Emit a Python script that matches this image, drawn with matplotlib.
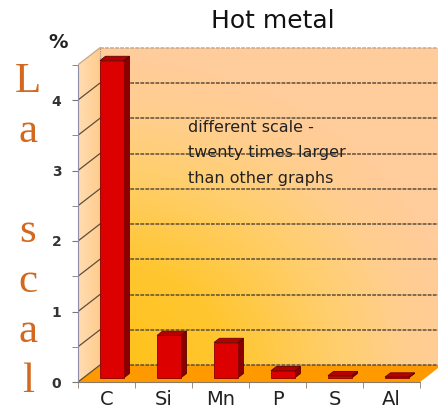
import matplotlib.pyplot as plt
import matplotlib.patches as mpatches
from matplotlib.colors import LinearSegmentedColormap
import numpy as np

categories = ["C", "Si", "Mn", "P", "S", "Al"]
percent = [4.5, 0.6, 0.5, 0.1, 0.03, 0.01]
tick_values = [0, 1, 2, 3, 4]
side_word = "La scal"
note_lines = ["different scale -", "twenty times larger", "than other graphs"]

W, H = 438, 409
fig = plt.figure(figsize=(W / 100, H / 100), dpi=100)
fig.patch.set_facecolor("white")

# front-left floor corner at (78, 382) px, 57 px per category, 70.5 px per %
px_cat, px_val = 57.0, 70.5
x0, y0, x1, y1 = 78, 382, 438, 45
ax = fig.add_axes([x0 / W, 1 - y0 / H, (x1 - x0) / W, (y0 - y1) / H])
xmin = -0.5
xlim = (xmin, xmin + (x1 - x0) / px_cat)
ylim = (0, (y0 - y1) / px_val)
ax.set_facecolor("none")

top = 4.5
dx, dy = 22 / px_cat, 17 / px_val
n = len(categories)
xr = n - 0.5
xs = np.arange(n)

# grid for gradients (pixel coords)
gx, gy = np.meshgrid(np.linspace(0, 1, 300), np.linspace(0, 1, 300))
pxx = x0 + gx * (x1 - x0)
pyy = y0 - gy * (y0 - y1)
extent = (xlim[0], xlim[1], ylim[0], ylim[1])

# back wall
back = mpatches.Polygon([(xmin + dx, dy), (xr + dx, dy), (xr + dx, top + dy), (xmin + dx, top + dy)],
                        closed=True, facecolor="none", edgecolor="none")
ax.add_patch(back)
r = np.clip(np.hypot((pxx - 105) / 370, (pyy - 380) / 330), 0, 1)
wall_cmap = LinearSegmentedColormap.from_list(
    "wall", [(0, "#FFC216"), (0.35, "#FFC630"), (0.62, "#FFCE6A"), (0.82, "#FFCE8E"), (1, "#FFCC9C")])
im = ax.imshow(r, extent=extent, origin="lower", cmap=wall_cmap, vmin=0, vmax=1,
               aspect="auto", zorder=0)
im.set_clip_path(back)

# left wall
left = mpatches.Polygon([(xmin, 0), (xmin + dx, dy), (xmin + dx, top + dy), (xmin, top)],
                        closed=True, facecolor="none", edgecolor="none")
ax.add_patch(left)
lw_cmap = LinearSegmentedColormap.from_list("lwall", ["#FFDDB2", "#FFCB8C"])
im2 = ax.imshow(np.clip((pxx - x0) / 22, 0, 1), extent=extent, origin="lower", cmap=lw_cmap,
                vmin=0, vmax=1, aspect="auto", zorder=0)
im2.set_clip_path(left)

# floor
ax.add_patch(mpatches.Polygon([(xmin, 0), (xr, 0), (xr + dx, dy), (xmin + dx, dy)],
                              closed=True, facecolor="#FF9900", edgecolor="none", zorder=1))

# grid lines on walls
for v in np.arange(0, top + 0.01, 0.5):
    c = "#C8A888" if v == top else "#5E4E3A"
    ax.plot([xmin + dx, xr + dx], [v + dy, v + dy], color=c, lw=1.1, ls=(0, (2.5, 0.8)), zorder=1.5)
    ax.plot([xmin, xmin + dx], [v, v + dy], color=c, lw=0.9, zorder=1.5)
ax.plot([xmin + dx, xmin + dx], [dy, top + dy], color="#8E8EA8", lw=0.8, ls=(0, (1, 1)), zorder=1.5)

# bars: front face + side + top
f, b, w = 0.25, 0.5, 0.42
ax.bar(xs + f * dx, percent, width=w, bottom=f * dy, color="#DD0000",
       edgecolor="#880000", linewidth=0.6, zorder=3)
for i, v in zip(xs, percent):
    xl, xh = i - w / 2, i + w / 2
    side = [(xh + f * dx, f * dy), (xh + b * dx, b * dy), (xh + b * dx, v + b * dy), (xh + f * dx, v + f * dy)]
    cap = [(xl + f * dx, v + f * dy), (xh + f * dx, v + f * dy), (xh + b * dx, v + b * dy), (xl + b * dx, v + b * dy)]
    ax.add_patch(mpatches.Polygon(side, closed=True, facecolor="#8A0000", edgecolor="#550000", lw=0.6, zorder=2.9))
    ax.add_patch(mpatches.Polygon(cap, closed=True, facecolor="#B80000", edgecolor="#660000", lw=0.6, zorder=2.9))

ax.set_xlim(*xlim)
ax.set_ylim(*ylim)

# axes
for s in ["top", "right"]:
    ax.spines[s].set_visible(False)
ax.spines["left"].set_bounds(0, top)
ax.spines["left"].set_color("#8E8EA8")
ax.spines["left"].set_linestyle((0, (1, 1)))
ax.spines["bottom"].set_bounds(xmin, xr)
ax.spines["bottom"].set_color("#8A7A6A")
ax.spines["left"].set_zorder(4)
ax.spines["bottom"].set_zorder(4)

ax.set_yticks(tick_values)
ax.set_yticklabels([str(t) for t in tick_values], fontsize=10, fontweight="bold", color="#333333")
ax.set_yticks(np.arange(0, top + 0.01, 0.5), minor=True)
ax.tick_params(axis="y", which="both", length=4, color="#777777", pad=8)
ax.set_xticks(xs)
ax.set_xticklabels(categories, fontsize=14, color="#222222")
ax.set_xticks(np.arange(xmin, xr + 0.01, 1), minor=True)
ax.tick_params(axis="x", which="major", length=0, pad=6)
ax.tick_params(axis="x", which="minor", length=4, color="#8A7A6A")

# texts
fig.text(273 / W, 1 - 21 / H, "Hot metal", fontsize=18, ha="center", va="center", color="#111111")
fig.text(58 / W, 1 - 42 / H, "%", fontsize=14, fontweight="bold", ha="center", va="center", color="#222222")
for j, line in enumerate(note_lines):
    fig.text(188 / W, 1 - (128 + 25 * j) / H, line, fontsize=11.5, ha="left", va="center", color="#222222")
for i, ch in enumerate(side_word):
    if ch == " ":
        continue
    fig.text(28 / W, 1 - (92 + 50 * i) / H, ch, ha="center", va="baseline", fontsize=31,
             family="Liberation Serif", color="#D2691E")

fig.savefig("out.png", dpi=100)
